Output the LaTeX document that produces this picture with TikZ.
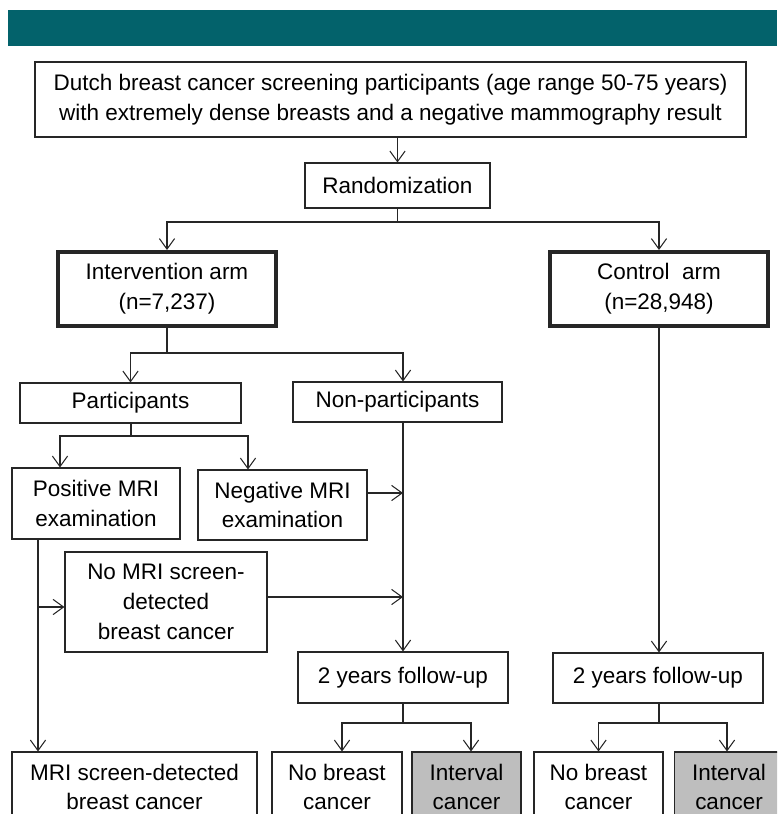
\documentclass[tikz,border=0pt]{standalone}
\usepackage{fontspec}
\setmainfont{Liberation Sans}
\usetikzlibrary{arrows.meta}
\definecolor{bannerteal}{RGB}{3,98,107}
\definecolor{cancergray}{RGB}{190,190,190}

\begin{document}
\begin{tikzpicture}[x=0.03cm,y=-0.03cm,->,>={Straight Barb[length=9pt,width=13pt]},
  line width=0.9pt,draw=black!85,font=\fontsize{19.2}{25.5}\selectfont,
  box node/.style={rectangle,draw,fill=white,align=center,inner sep=0pt,line width=0.9pt},
  arm node/.style={box node,line width=3.4pt,minimum width=6.54cm,minimum height=2.22cm},
  end node/.style={box node,minimum height=2.1cm},
  gray node/.style={end node,fill=cancergray},
  hv path/.style={to path={-| (\tikztotarget)}}]

  \useasboundingbox (0,0) rectangle (777,814);
  \clip (0,0) rectangle (777,814);
  \fill[bannerteal] (8,10) rectangle (777,46);

  \node[box node,minimum width=21.33cm,minimum height=2.25cm] (pop) at (390.5,99.5)
    {Dutch breast cancer screening participants (age range 50-75 years)\\with extremely dense breasts and a negative mammography result};
  \node[box node,minimum width=5.55cm,minimum height=1.35cm] (rand) at (397.5,185.5) {Randomization};
  \node[arm node] (int) at (167,289) {Intervention arm\\(n=7,237)};
  \node[arm node] (ctrl) at (659,289) {Control~ arm\\(n=28,948)};
  \node[box node,minimum width=6.63cm,minimum height=1.2cm] (part) at (130.5,403) {Participants};
  \node[box node,minimum width=6.27cm,minimum height=1.2cm] (nonpart) at (397.5,402) {Non-participants};
  \node[box node,minimum width=5.04cm,minimum height=2.13cm] (pos) at (96,503.5) {Positive MRI\\examination};
  \node[box node,minimum width=5.07cm,minimum height=2.1cm] (neg) at (282.5,505) {Negative MRI\\examination};
  \node[box node,minimum width=6.06cm,minimum height=3.0cm] (nomri) at (166,602) {No MRI screen-\\detected\\breast cancer};
  \node[box node,minimum width=6.3cm,minimum height=1.53cm] (fu1) at (403,677.5) {2 years follow-up};
  \node[box node,minimum width=6.3cm,minimum height=1.5cm] (fu2) at (658,678) {2 years follow-up};
  \node[end node,minimum width=7.35cm] (mri) at (134.5,787) {MRI screen-detected\\breast cancer};
  \node[end node,minimum width=3.9cm] (nbc1) at (337,787) {No breast\\cancer};
  \node[gray node,minimum width=3.27cm] (ic1) at (466.5,787) {Interval\\cancer};
  \node[end node,minimum width=3.87cm] (nbc2) at (598.5,787) {No breast\\cancer};
  \node[gray node,minimum width=3.27cm] (ic2) at (729,787) {Interval\\cancer};

  \coordinate (s1) at (397.5,222);
  \coordinate (s2) at (167,353);
  \coordinate (s3) at (131,436);
  \coordinate (s4) at (403,723);
  \coordinate (s5) at (659,723);
  \coordinate (n1) at ([yshift=0.36cm]neg.east);
  \coordinate (n2) at ([yshift=0.15cm]nomri.east);
  \coordinate (p1) at ([xshift=-1.74cm]pos.south);
  \coordinate (p2) at (38,607);

  \path
    (rand.north |- pop.south) edge (rand)
    (rand) edge[-] (s1)
    (s1) edge[hv path] (int)
    (s1) edge[hv path] (ctrl)
    (int) edge[-] (s2)
    (s2) edge[hv path] (part)
    (s2) edge[hv path] (nonpart.north -| fu1)
    (part.south -| s3) edge[-] (s3)
    (s3) edge[hv path] ([xshift=-1.08cm]pos.north)
    (s3) edge[hv path] ([xshift=-1.035cm]neg.north)
    (nonpart.south -| fu1) edge (fu1)
    (n1) edge (n1 -| fu1)
    (n2) edge (n2 -| fu1)
    (p1) edge (p1 |- mri.north)
    (p2) edge (nomri.west |- p2)
    (ctrl) edge (ctrl |- fu2.north)
    (fu1.south -| s4) edge[-] (s4)
    (s4) edge[hv path] ([xshift=0.15cm]nbc1.north)
    (s4) edge[hv path] ([xshift=0.135cm]ic1.north)
    (fu2.south -| s5) edge[-] (s5)
    (s5) edge[hv path] (nbc2)
    (s5) edge[hv path] ([xshift=-0.06cm]ic2.north)
    ;

\end{tikzpicture}
\end{document}
